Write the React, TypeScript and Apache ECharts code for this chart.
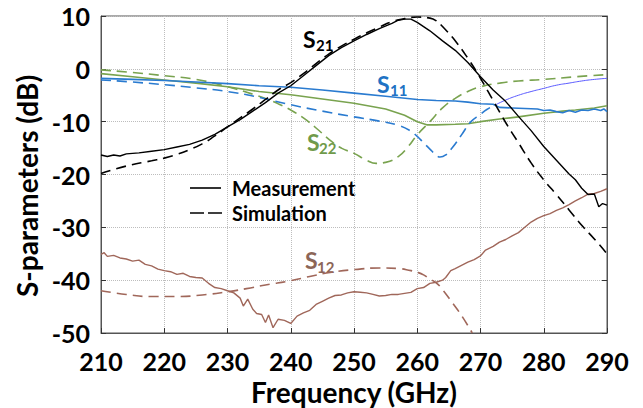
import React, { useEffect, useRef } from "react";
import * as echarts from "echarts";

// ---- tick settings ----
const xMin = 210, xMax = 290, xStep = 10;
const yMin = -50, yMax = 10, yStep = 10;

// ---- S21 ----
const s21Meas: [number, number][] = [
  [210, -16.3], [211, -16.6], [212, -16.3], [213, -16.5], [214, -16.1], [216, -15.9], [218, -15.6],
  [220, -15.3], [222, -14.8], [224, -14.3], [226, -13.5], [228, -12.4], [230, -11.0], [232, -9.6],
  [234, -8.0], [236, -6.4], [238, -4.6], [240, -3.2], [242, -1.3], [244, 0.6], [246, 2.5], [248, 4.0],
  [250, 5.3], [252, 6.5], [254, 7.6], [256, 8.6], [257, 9.2], [258, 9.4], [259, 9.4], [260, 8.8],
  [262, 7.2], [264, 5.3], [266, 3.5], [268, 1.2], [270, -1.5], [272, -4.0], [274, -6.2], [276, -9.0],
  [278, -11.7], [280, -14.7], [282, -17.3], [284, -19.9], [285, -21.0], [286, -22.6], [287, -23.8],
  [288, -23.7], [288.7, -26.1], [289.3, -25.5], [290, -25.8],
];
const s21Sim: [number, number][] = [
  [210, -19.8], [214, -18.4], [218, -17.4], [220, -16.9], [222, -16.2], [224, -15.3], [226, -14.2],
  [228, -12.7], [230, -11.0], [232, -9.3], [234, -7.6], [236, -5.8], [238, -4.0], [240, -2.6],
  [242, -0.9], [244, 1.0], [246, 2.8], [248, 4.3], [250, 5.6], [252, 6.8], [254, 7.9], [256, 8.9],
  [258, 9.5], [260, 9.8], [262, 9.6], [263, 9.1], [264, 8.0], [266, 5.3], [268, 2.0], [270, -1.8],
  [272, -6.0], [274, -10.2], [276, -14.0], [278, -17.8], [280, -21.0], [282, -23.8], [284, -26.7],
  [286, -29.6], [288, -32.2], [290, -35.0],
];

// ---- S11 ----
const s11Meas: [number, number][] = [
  [210, -1.8], [215, -2.0], [220, -2.2], [225, -2.5], [230, -2.8], [235, -3.2], [240, -3.5],
  [245, -4.0], [250, -4.6], [255, -5.2], [260, -5.8], [263, -6.0], [266, -6.1], [268, -6.3],
  [270, -6.6], [272, -6.7], [273, -7.3], [275, -7.4], [277, -7.5], [279, -7.6], [280, -7.9],
  [281, -7.8], [282, -8.1], [283, -8.3], [284, -7.9], [285, -8.2], [286, -7.8], [287, -7.9],
  [288, -7.6], [289, -7.9], [289.5, -7.6], [290, -8.1],
];
const s11Sim: [number, number][] = [
  [210, -2.1], [215, -2.5], [220, -3.0], [225, -3.6], [230, -4.3], [235, -5.4], [240, -6.8],
  [245, -8.0], [250, -9.1], [254, -9.9], [257, -10.7], [259, -11.8], [260, -12.8], [261, -14.0],
  [262, -15.2], [263, -16.3], [263.6, -16.7], [264.5, -16.3], [265.5, -15.0], [267, -12.5],
  [268.5, -10.0], [270, -8.6], [271, -7.7], [272.4, -6.8],
];
const s11SimTail: [number, number][] = [
  [272.4, -6.8], [274, -5.9], [276, -5.0], [278, -4.3], [280, -3.7], [282, -3.1], [284, -2.7],
  [286, -2.3], [288, -2.0], [290, -1.8],
];

// ---- S22 ----
const s22Meas: [number, number][] = [
  [210, -0.9], [215, -1.5], [220, -2.1], [225, -2.7], [230, -3.4], [235, -4.3], [240, -4.9],
  [245, -5.7], [250, -6.5], [255, -7.6], [258, -8.8], [260, -10.0], [261.5, -10.6], [263, -10.6],
  [266, -10.5], [268, -10.4], [270, -10.0], [273, -9.5], [276, -9.1], [280, -8.4], [283, -8.0],
  [285, -7.8], [288, -7.4], [290, -7.0],
];
const s22Sim: [number, number][] = [
  [210, -0.2], [215, -0.7], [220, -1.3], [225, -2.0], [230, -3.4], [234, -4.8], [236, -5.6],
  [238, -6.6], [240, -7.8], [242, -9.3], [244, -11.2], [246.5, -13.8], [248, -15.0], [250, -16.0],
  [252, -17.3], [253.5, -17.9], [255, -17.7], [257, -16.6], [258.5, -14.8], [260, -12.5],
  [262, -10.0], [264, -7.4], [266, -5.6], [268, -4.3], [270, -3.4], [273, -2.7], [276, -2.3],
  [280, -2.0], [285, -1.5], [290, -1.1],
];

// ---- S12 ----
const s12Meas: [number, number][] = [
  [210, -35.1], [210.5, -34.8], [211, -35.5], [212, -35.3], [213, -35.8], [214, -36.0], [215, -36.4],
  [216, -36.2], [217, -37.0], [218, -37.3], [219, -37.9], [220, -38.2], [221, -38.4], [222, -38.9],
  [223, -38.7], [224, -39.3], [225, -39.5], [226, -39.6], [227, -40.6], [228, -41.4], [229, -41.6],
  [230, -42.0], [231, -42.4], [232, -43.4], [232.5, -44.9], [233.2, -43.6], [234, -45.5],
  [234.6, -46.3], [235.4, -46.5], [236, -48.0], [236.5, -46.6], [237.2, -49.0], [238, -47.4],
  [239, -47.6], [240, -48.2], [241, -46.8], [242, -46.2], [243, -45.7], [244, -44.6], [245, -44.0],
  [246, -43.4], [247, -42.9], [248, -42.8], [249, -42.4], [250, -42.2], [251, -42.3], [252, -42.4],
  [253, -42.7], [254, -43.0], [255, -42.9], [256, -42.7], [257, -42.7], [258, -42.5], [259, -42.3],
  [260, -41.6], [261, -41.4], [262, -40.6], [263, -40.4], [264, -40.0], [264.5, -39.5],
  [265.3, -38.2], [266, -37.8], [267, -37.2], [268, -36.6], [269, -36.1], [270, -35.4],
  [270.8, -34.3], [272, -33.6], [273, -32.8], [274, -32.3], [275, -31.6], [276, -31.0],
  [277, -30.0], [278, -29.0], [279, -28.3], [280, -27.8], [281, -27.4], [282, -26.8], [283, -26.3],
  [284, -25.7], [285, -25.0], [286, -24.4], [287, -23.7], [288, -23.6], [289, -23.2], [290, -22.7],
];
const s12Sim: [number, number][] = [
  [210, -42.0], [214, -42.7], [218, -43.1], [222, -43.1], [226, -42.8], [230, -42.2], [233, -41.6],
  [236, -40.9], [240, -40.1], [243, -39.3], [246.5, -38.5], [250, -38.0], [254, -37.7], [257, -37.8],
  [259, -38.2], [260, -38.5], [261, -39.0], [262, -39.8], [263, -40.5], [264, -41.8], [265.5, -44.2],
  [267, -46.7], [268.7, -50.0],
];

const legendNames = ["Measurement", "Simulation"];
const xTitle = "Frequency (GHz)";
const yTitle = "S-parameters (dB)";

const FONT = "Lato, 'Open Sans', sans-serif";
const BLACK = "#000000";
const BLUE = "#2a7bd0";
const GREEN = "#79a34f";
const BROWN = "#a0675a";
const PURPLE = "#5a5aff";
const DASH = [10, 6];

function line(data: [number, number][], color: string, dashed: boolean, width = 1.6, smooth = false) {
  return {
    type: "line",
    data,
    symbol: "none",
    showSymbol: false,
    smooth,
    lineStyle: { color, width, type: dashed ? DASH : "solid" },
    silent: true,
    z: 3,
  };
}

function label(s: string, sub: string, sx: number, sy: number, bx: number, by: number, color: string) {
  return [
    { type: "text", x: sx, y: sy, style: { text: s, font: `bold 23px ${FONT}`, fill: color, textAlign: "left", textVerticalAlign: "middle" } },
    { type: "text", x: bx, y: by, style: { text: sub, font: `bold 15px ${FONT}`, fill: color, textAlign: "left", textVerticalAlign: "middle" } },
  ];
}

export default function App() {
  const ref = useRef<HTMLDivElement>(null);
  useEffect(() => {
    if (!ref.current) return;
    const chart = echarts.init(ref.current, undefined, { renderer: "svg" });
    const axisLabelStyle = { color: "#000", fontSize: 25, fontWeight: "bold", fontFamily: FONT };
    const option: any = {
      animation: false,
      backgroundColor: "#ffffff",
      grid: {
        left: 101, top: 16, right: 36, bottom: 75,
        outerBoundsMode: "none",
        containLabel: false,
        show: true, borderColor: "#555", borderWidth: 1, backgroundColor: "transparent",
      },
      xAxis: {
        type: "value",
        min: xMin,
        max: xMax,
        interval: xStep,
        axisLine: { show: true, onZero: false, lineStyle: { color: "#555" } },
        axisTick: { show: true, inside: true, length: 5, lineStyle: { color: "#333" } },
        axisLabel: { ...axisLabelStyle, margin: 15 },
        splitLine: { show: true, lineStyle: { color: "#bdbdbd", type: "dotted", width: 1 } },
        name: xTitle,
        nameLocation: "middle",
        nameGap: 45,
        nameTextStyle: { color: "#000", fontSize: 28, fontWeight: "bold", fontFamily: FONT },
      },
      yAxis: [
        {
          type: "value",
          min: yMin,
          max: yMax,
          interval: yStep,
          axisLine: { show: true, onZero: false, lineStyle: { color: "#555" } },
          axisTick: { show: true, inside: true, length: 5, lineStyle: { color: "#333" } },
          axisLabel: { ...axisLabelStyle, margin: 11 },
          splitLine: { show: true, lineStyle: { color: "#bdbdbd", type: "dotted", width: 1 } },
        },
        {
          type: "value",
          position: "right",
          min: yMin,
          max: yMax,
          interval: yStep,
          axisLine: { show: true, onZero: false, lineStyle: { color: "#555" } },
          axisTick: { show: true, inside: true, length: 5, lineStyle: { color: "#333" } },
          axisLabel: { show: false },
          splitLine: { show: false },
        },
      ],
      graphic: [
        {
          type: "text",
          x: 27,
          y: 186,
          rotation: Math.PI / 2,
          style: { text: yTitle, font: `bold 28px ${FONT}`, fill: "#000", textAlign: "center", textVerticalAlign: "middle" },
        },
        // legend
        { type: "line", shape: { x1: 190, y1: 188, x2: 221, y2: 188 }, style: { stroke: BLACK, lineWidth: 1.6 } },
        { type: "line", shape: { x1: 190, y1: 213, x2: 223, y2: 213 }, style: { stroke: BLACK, lineWidth: 1.6, lineDash: [14, 4] } },
        { type: "text", x: 232, y: 188, style: { text: legendNames[0], font: `bold 20px ${FONT}`, fill: "#000", textAlign: "left", textVerticalAlign: "middle" } },
        { type: "text", x: 232, y: 213, style: { text: legendNames[1], font: `bold 20px ${FONT}`, fill: "#000", textAlign: "left", textVerticalAlign: "middle" } },
        ...label("S", "21", 303, 38.5, 316, 45, BLACK),
        ...label("S", "11", 377, 83.5, 390, 90, "#2072c4"),
        ...label("S", "22", 307, 141.5, 319, 147.5, "#6f9a4a"),
        ...label("S", "12", 305, 260, 317, 266.5, "#8c6658"),
      ],
      series: [
        line(s12Sim, BROWN, true, 1.6, true),
        line(s12Meas, BROWN, false, 1.4),
        line(s22Sim, GREEN, true, 1.6, true),
        line(s22Meas, GREEN, false, 1.6),
        line(s11SimTail, PURPLE, false, 1, true),
        line(s11Sim, BLUE, true, 1.6, true),
        line(s11Meas, BLUE, false, 1.6),
        line(s21Sim, BLACK, true, 1.6, true),
        line(s21Meas, BLACK, false, 1.4),
      ],
    };
    chart.setOption(option);
    return () => chart.dispose();
  }, []);
  return <div ref={ref} style={{ position: "fixed", left: 0, top: 0, width: 643, height: 408 }} />;
}
